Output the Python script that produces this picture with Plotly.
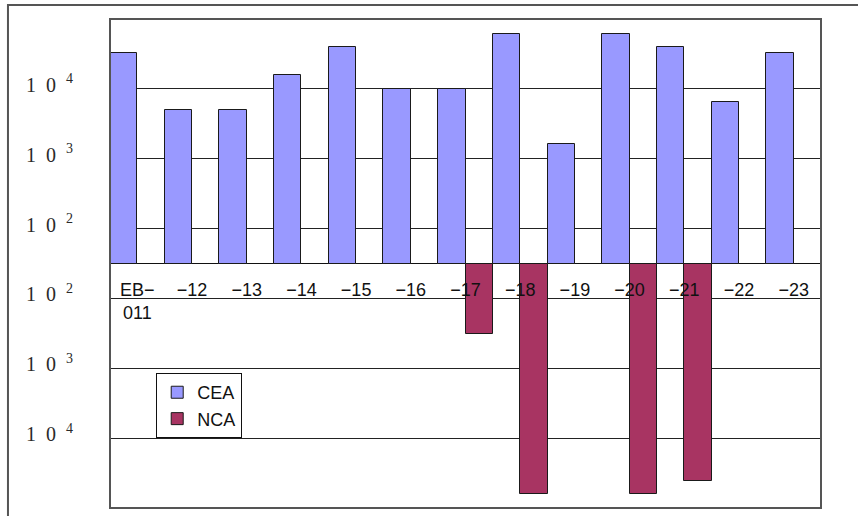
import math
import plotly.graph_objects as go

# ---- data ----
categories = ["EB-011", "-12", "-13", "-14", "-15", "-16", "-17",
              "-18", "-19", "-20", "-21", "-22", "-23"]
tick_labels = ["EB−<br>011", "−12", "−13", "−14", "−15", "−16", "−17",
               "−18", "−19", "−20", "−21", "−22", "−23"]
cea_values = [33000, 5000, 5000, 16000, 40000, 10000, 10000,
              62000, 1600, 62000, 40000, 6500, 33000]
nca_values = [None, None, None, None, None, None, 320,
              63000, None, 63000, 40500, None, None]
y_tick_exponents = [4, 3, 2, 2, 3, 4]

BASE = 1.5  # log10 of the value at the baseline


def up(v):
    return None if v is None else math.log10(v) - BASE


def down(v):
    return None if v is None else -(math.log10(v) - BASE)


y_tick_vals = [e - BASE for e in y_tick_exponents[:3]] + [-(e - BASE) for e in y_tick_exponents[3:]]
y_tick_text = ["1\u20020\u2002<sup>%d</sup>" % e for e in y_tick_exponents]

fig = go.Figure()
fig.add_trace(go.Bar(
    name="CEA", x=categories, y=[up(v) for v in cea_values],
    marker=dict(color="#9999FF", line=dict(color="#1a1a1a", width=1)),
))
fig.add_trace(go.Bar(
    name="NCA", x=categories, y=[down(v) for v in nca_values],
    marker=dict(color="#A83462", line=dict(color="#1a1a1a", width=1)),
))

fig.update_layout(
    width=858, height=516, autosize=False,
    margin=dict(l=110, r=37, t=19, b=8),
    paper_bgcolor="white", plot_bgcolor="white",
    barmode="group", bargap=0, bargroupgap=0,
    showlegend=True,
    legend=dict(
        x=0.065, y=0.276, xanchor="left", yanchor="top",
        bgcolor="white", bordercolor="#111111", borderwidth=1,
        font=dict(family="Liberation Sans", size=18, color="#111"),
        tracegroupgap=0,
    ),
    modebar=dict(bgcolor="rgba(0,0,0,0)", color="rgba(0,0,0,0)",
                 activecolor="rgba(0,0,0,0)"),
    font=dict(family="Liberation Sans", color="#111"),
)

fig.update_xaxes(
    type="category", range=[-0.5, len(categories) - 0.5],
    tickvals=categories, ticktext=tick_labels,
    anchor="free", position=0.5,
    showline=False, ticks="", showgrid=False,
    ticklabelstandoff=13, automargin=False,
    tickfont=dict(family="Liberation Sans", size=18, color="#111"),
)
fig.update_yaxes(
    range=[-3.5, 3.5],
    tickvals=y_tick_vals, ticktext=y_tick_text,
    showgrid=True, gridcolor="#222", gridwidth=1,
    zeroline=True, zerolinecolor="#111", zerolinewidth=1.2,
    showline=False, ticks="",
    ticklabelstandoff=36, ticklabelshift=-4, automargin=False,
    tickfont=dict(family="Liberation Serif", size=20, color="#2a2a2a"),
)

# plot area border and outer chart frame
fig.add_shape(type="rect", xref="paper", yref="paper", x0=0, x1=1, y0=0, y1=1,
              line=dict(color="#555", width=2), fillcolor="rgba(0,0,0,0)")
fig.add_shape(type="rect", xref="paper", yref="paper", x0=-0.1435, x1=1.07, y0=-0.04, y1=1.0286,
              line=dict(color="#555", width=2), fillcolor="rgba(0,0,0,0)")

fig.write_html("out.html",
               config={"displaylogo": False},
               post_script="document.body.style.margin='0';document.body.style.overflow='hidden';")
